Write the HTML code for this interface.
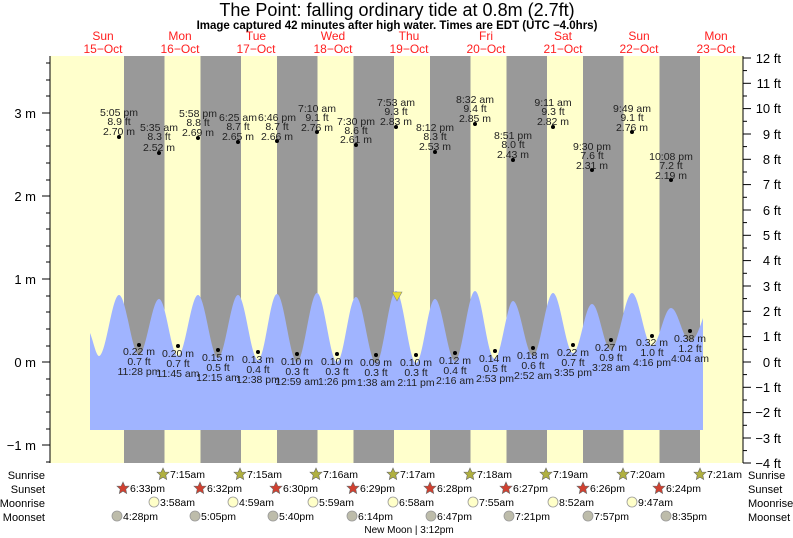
<!DOCTYPE html>
<html><head><meta charset="utf-8"><style>
html,body{margin:0;padding:0;background:#fff;}
svg{display:block;font-family:"Liberation Sans",sans-serif;}
</style></head><body>
<svg width="793" height="538" viewBox="0 0 793 538" xmlns="http://www.w3.org/2000/svg">
<rect width="793" height="538" fill="#fff"/>
<text x="397" y="16" font-size="18" text-anchor="middle" fill="#000">The Point: falling  ordinary tide at 0.8m (2.7ft)</text>
<text x="397" y="29" font-size="11.5" font-weight="bold" text-anchor="middle" fill="#000">Image captured 42 minutes after high water. Times are EDT (UTC −4.0hrs)</text>
<g font-size="12" fill="#ff2020" text-anchor="middle">
<text x="103" y="40">Sun</text><text x="103" y="53">15−Oct</text>
<text x="180" y="40">Mon</text><text x="180" y="53">16−Oct</text>
<text x="256" y="40">Tue</text><text x="256" y="53">17−Oct</text>
<text x="333" y="40">Wed</text><text x="333" y="53">18−Oct</text>
<text x="409" y="40">Thu</text><text x="409" y="53">19−Oct</text>
<text x="486" y="40">Fri</text><text x="486" y="53">20−Oct</text>
<text x="563" y="40">Sat</text><text x="563" y="53">21−Oct</text>
<text x="639" y="40">Sun</text><text x="639" y="53">22−Oct</text>
<text x="716" y="40">Mon</text><text x="716" y="53">23−Oct</text>
</g>
<rect x="50" y="56" width="693" height="407" fill="#ffffcc"/>
<g fill="#999999">
<rect x="124" y="56" width="40.5" height="407"/>
<rect x="200.5" y="56" width="40.5" height="407"/>
<rect x="277" y="56" width="40.5" height="407"/>
<rect x="353.5" y="56" width="40.5" height="407"/>
<rect x="430" y="56" width="40.5" height="407"/>
<rect x="506.5" y="56" width="40.5" height="407"/>
<rect x="583" y="56" width="40.5" height="407"/>
<rect x="659.5" y="56" width="40.5" height="407"/>
</g>
<path fill="#a0b4ff" d="M90,333 C93,340 96,356 99,356 C106,356 112,295 119,295 C126,295 132,355 139,355 C146,355 152,299 159,299 C166,299 171,356 178,356 C185,356 191,295 198,295 C205,295 211,358 218,358 C225,358 231,295 238,295 C245,295 251,360 258,360 C265,360 270,294 277,294 C284,294 290,362 297,362 C304,362 310,293 317,293 C324,293 330,362 337,362 C344,362 349,297 356,297 C363,297 369,363 376,363 C383,363 389,291 396,291 C403,291 409,363 416,363 C423,363 428,299 435,299 C442,299 448,361 455,361 C462,361 468,291 475,291 C482,291 487,359 495,359 C501,359 507,301 513,301 C520,301 526,356 533,356 C540,356 546,293 553,293 C560,293 566,353 573,353 C580,353 585,304 592,304 C599,304 604,350 611,350 C618,350 625,293 632,293 C639,293 645,346 652,346 C659,346 664,308 671,308 C678,308 683,341 690,341 C695,341 699,330 703,318 L703,430 L90,430 Z"/>
<polygon points="392,292 402,292 397,301" fill="#e8e030" stroke="#888" stroke-width="0.6"/>
<g stroke="#000" stroke-width="1">
<line x1="50" y1="56" x2="50" y2="463"/>
<line x1="743" y1="56" x2="743" y2="463"/>
<line x1="42" y1="113" x2="50" y2="113"/><line x1="42" y1="196" x2="50" y2="196"/><line x1="42" y1="279" x2="50" y2="279"/><line x1="42" y1="362" x2="50" y2="362"/><line x1="42" y1="445" x2="50" y2="445"/>
<line x1="46" y1="63" x2="50" y2="63"/><line x1="46" y1="80" x2="50" y2="80"/><line x1="46" y1="96" x2="50" y2="96"/><line x1="46" y1="130" x2="50" y2="130"/><line x1="46" y1="146" x2="50" y2="146"/><line x1="46" y1="163" x2="50" y2="163"/><line x1="46" y1="180" x2="50" y2="180"/><line x1="46" y1="213" x2="50" y2="213"/><line x1="46" y1="229" x2="50" y2="229"/><line x1="46" y1="246" x2="50" y2="246"/><line x1="46" y1="262" x2="50" y2="262"/><line x1="46" y1="296" x2="50" y2="296"/><line x1="46" y1="312" x2="50" y2="312"/><line x1="46" y1="329" x2="50" y2="329"/><line x1="46" y1="346" x2="50" y2="346"/><line x1="46" y1="379" x2="50" y2="379"/><line x1="46" y1="395" x2="50" y2="395"/><line x1="46" y1="412" x2="50" y2="412"/><line x1="46" y1="429" x2="50" y2="429"/><line x1="46" y1="462" x2="50" y2="462"/>
<line x1="743" y1="58" x2="751" y2="58"/><line x1="743" y1="83.3" x2="751" y2="83.3"/><line x1="743" y1="108.6" x2="751" y2="108.6"/><line x1="743" y1="134" x2="751" y2="134"/><line x1="743" y1="159.3" x2="751" y2="159.3"/><line x1="743" y1="184.6" x2="751" y2="184.6"/><line x1="743" y1="210" x2="751" y2="210"/><line x1="743" y1="235.3" x2="751" y2="235.3"/><line x1="743" y1="260.6" x2="751" y2="260.6"/><line x1="743" y1="286" x2="751" y2="286"/><line x1="743" y1="311.3" x2="751" y2="311.3"/><line x1="743" y1="336.6" x2="751" y2="336.6"/><line x1="743" y1="362" x2="751" y2="362"/><line x1="743" y1="387.3" x2="751" y2="387.3"/><line x1="743" y1="412.6" x2="751" y2="412.6"/><line x1="743" y1="438" x2="751" y2="438"/><line x1="743" y1="463" x2="751" y2="463"/>
<line x1="743" y1="70.6" x2="747" y2="70.6"/><line x1="743" y1="96" x2="747" y2="96"/><line x1="743" y1="121.3" x2="747" y2="121.3"/><line x1="743" y1="146.6" x2="747" y2="146.6"/><line x1="743" y1="172" x2="747" y2="172"/><line x1="743" y1="197.3" x2="747" y2="197.3"/><line x1="743" y1="222.6" x2="747" y2="222.6"/><line x1="743" y1="248" x2="747" y2="248"/><line x1="743" y1="273.3" x2="747" y2="273.3"/><line x1="743" y1="298.6" x2="747" y2="298.6"/><line x1="743" y1="324" x2="747" y2="324"/><line x1="743" y1="349.3" x2="747" y2="349.3"/><line x1="743" y1="374.6" x2="747" y2="374.6"/><line x1="743" y1="400" x2="747" y2="400"/><line x1="743" y1="425.3" x2="747" y2="425.3"/><line x1="743" y1="450.6" x2="747" y2="450.6"/>
</g>
<g font-size="13" fill="#000" text-anchor="end">
<text x="36" y="118">3 m</text><text x="36" y="201">2 m</text><text x="36" y="284">1 m</text><text x="36" y="367">0 m</text><text x="36" y="450">−1 m</text>
<text x="781" y="63">12 ft</text><text x="781" y="88">11 ft</text><text x="781" y="113">10 ft</text><text x="781" y="139">9 ft</text><text x="781" y="164">8 ft</text><text x="781" y="189">7 ft</text><text x="781" y="215">6 ft</text><text x="781" y="240">5 ft</text><text x="781" y="265">4 ft</text><text x="781" y="291">3 ft</text><text x="781" y="316">2 ft</text><text x="781" y="341">1 ft</text><text x="781" y="367">0 ft</text><text x="781" y="392">−1 ft</text><text x="781" y="417">−2 ft</text><text x="781" y="443">−3 ft</text><text x="781" y="468">−4 ft</text>
</g>
<g font-size="10.5" fill="#222" text-anchor="middle">
<circle cx="119" cy="137" r="2" fill="#000"/><text x="119" y="116">5:05 pm</text><text x="119" y="125">8.9 ft</text><text x="119" y="135">2.70 m</text>
<circle cx="159" cy="153" r="2" fill="#000"/><text x="159" y="131">5:35 am</text><text x="159" y="140">8.3 ft</text><text x="159" y="151">2.52 m</text>
<circle cx="198" cy="138" r="2" fill="#000"/><text x="198" y="117">5:58 pm</text><text x="198" y="126">8.8 ft</text><text x="198" y="136">2.69 m</text>
<circle cx="238" cy="142" r="2" fill="#000"/><text x="238" y="121">6:25 am</text><text x="238" y="130">8.7 ft</text><text x="238" y="140">2.65 m</text>
<circle cx="277" cy="141" r="2" fill="#000"/><text x="277" y="121">6:46 pm</text><text x="277" y="130">8.7 ft</text><text x="277" y="140">2.66 m</text>
<circle cx="317" cy="132" r="2" fill="#000"/><text x="317" y="112">7:10 am</text><text x="317" y="121">9.1 ft</text><text x="317" y="131">2.76 m</text>
<circle cx="356" cy="145" r="2" fill="#000"/><text x="356" y="125">7:30 pm</text><text x="356" y="134">8.6 ft</text><text x="356" y="143">2.61 m</text>
<circle cx="396" cy="127" r="2" fill="#000"/><text x="396" y="106">7:53 am</text><text x="396" y="115">9.3 ft</text><text x="396" y="125">2.83 m</text>
<circle cx="435" cy="152" r="2" fill="#000"/><text x="435" y="131">8:12 pm</text><text x="435" y="140">8.3 ft</text><text x="435" y="150">2.53 m</text>
<circle cx="475" cy="124" r="2" fill="#000"/><text x="475" y="103">8:32 am</text><text x="475" y="112">9.4 ft</text><text x="475" y="122">2.85 m</text>
<circle cx="513" cy="160" r="2" fill="#000"/><text x="513" y="139">8:51 pm</text><text x="513" y="148">8.0 ft</text><text x="513" y="158">2.43 m</text>
<circle cx="553" cy="127" r="2" fill="#000"/><text x="553" y="106">9:11 am</text><text x="553" y="115">9.3 ft</text><text x="553" y="125">2.82 m</text>
<circle cx="592" cy="170" r="2" fill="#000"/><text x="592" y="150">9:30 pm</text><text x="592" y="159">7.6 ft</text><text x="592" y="169">2.31 m</text>
<circle cx="632" cy="132" r="2" fill="#000"/><text x="632" y="112">9:49 am</text><text x="632" y="121">9.1 ft</text><text x="632" y="131">2.76 m</text>
<circle cx="671" cy="180" r="2" fill="#000"/><text x="671" y="160">10:08 pm</text><text x="671" y="169">7.2 ft</text><text x="671" y="179">2.19 m</text>
</g>
<g font-size="10.5" fill="#222" text-anchor="middle">
<circle cx="139" cy="345" r="2" fill="#000"/><text x="139" y="355">0.22 m</text><text x="139" y="365">0.7 ft</text><text x="139" y="375">11:28 pm</text>
<circle cx="178" cy="346" r="2" fill="#000"/><text x="178" y="357">0.20 m</text><text x="178" y="367">0.7 ft</text><text x="178" y="377">11:45 am</text>
<circle cx="218" cy="350" r="2" fill="#000"/><text x="218" y="361">0.15 m</text><text x="218" y="371">0.5 ft</text><text x="218" y="381">12:15 am</text>
<circle cx="258" cy="352" r="2" fill="#000"/><text x="258" y="363">0.13 m</text><text x="258" y="373">0.4 ft</text><text x="258" y="383">12:38 pm</text>
<circle cx="297" cy="354" r="2" fill="#000"/><text x="297" y="365">0.10 m</text><text x="297" y="375">0.3 ft</text><text x="297" y="385">12:59 am</text>
<circle cx="337" cy="354" r="2" fill="#000"/><text x="337" y="365">0.10 m</text><text x="337" y="375">0.3 ft</text><text x="337" y="385">1:26 pm</text>
<circle cx="376" cy="355" r="2" fill="#000"/><text x="376" y="366">0.09 m</text><text x="376" y="376">0.3 ft</text><text x="376" y="386">1:38 am</text>
<circle cx="416" cy="355" r="2" fill="#000"/><text x="416" y="366">0.10 m</text><text x="416" y="376">0.3 ft</text><text x="416" y="386">2:11 pm</text>
<circle cx="455" cy="353" r="2" fill="#000"/><text x="455" y="364">0.12 m</text><text x="455" y="374">0.4 ft</text><text x="455" y="384">2:16 am</text>
<circle cx="495" cy="351" r="2" fill="#000"/><text x="495" y="362">0.14 m</text><text x="495" y="372">0.5 ft</text><text x="495" y="382">2:53 pm</text>
<circle cx="533" cy="348" r="2" fill="#000"/><text x="533" y="359">0.18 m</text><text x="533" y="369">0.6 ft</text><text x="533" y="379">2:52 am</text>
<circle cx="573" cy="345" r="2" fill="#000"/><text x="573" y="356">0.22 m</text><text x="573" y="366">0.7 ft</text><text x="573" y="376">3:35 pm</text>
<circle cx="611" cy="340" r="2" fill="#000"/><text x="611" y="351">0.27 m</text><text x="611" y="361">0.9 ft</text><text x="611" y="371">3:28 am</text>
<circle cx="652" cy="336" r="2" fill="#000"/><text x="652" y="346">0.32 m</text><text x="652" y="356">1.0 ft</text><text x="652" y="366">4:16 pm</text>
<circle cx="690" cy="331" r="2" fill="#000"/><text x="690" y="342">0.38 m</text><text x="690" y="352">1.2 ft</text><text x="690" y="362">4:04 am</text>
</g>
<g font-size="11" fill="#000">
<g text-anchor="end"><text x="45" y="479">Sunrise</text><text x="45" y="493">Sunset</text><text x="45" y="507">Moonrise</text><text x="45" y="521">Moonset</text></g>
<text x="748" y="479">Sunrise</text><text x="748" y="493">Sunset</text><text x="748" y="507">Moonrise</text><text x="748" y="521">Moonset</text>
</g>
<defs>
<polygon id="st" points="0,-6 1.8,-2 6,-1.8 2.8,1.2 3.7,5.5 0,3.2 -3.7,5.5 -2.8,1.2 -6,-1.8 -1.8,-2" stroke="#666" stroke-width="0.6"/>
</defs>
<g font-size="10.5" fill="#000">
<use href="#st" x="163" y="474" fill="#b0b040"/><text x="170" y="478">7:15am</text>
<use href="#st" x="240" y="474" fill="#b0b040"/><text x="247" y="478">7:15am</text>
<use href="#st" x="316" y="474" fill="#b0b040"/><text x="323" y="478">7:16am</text>
<use href="#st" x="393" y="474" fill="#b0b040"/><text x="400" y="478">7:17am</text>
<use href="#st" x="470" y="474" fill="#b0b040"/><text x="477" y="478">7:18am</text>
<use href="#st" x="546" y="474" fill="#b0b040"/><text x="553" y="478">7:19am</text>
<use href="#st" x="623" y="474" fill="#b0b040"/><text x="630" y="478">7:20am</text>
<use href="#st" x="700" y="474" fill="#b0b040"/><text x="707" y="478">7:21am</text>
<use href="#st" x="123" y="488" fill="#d04030"/><text x="130" y="492">6:33pm</text>
<use href="#st" x="200" y="488" fill="#d04030"/><text x="207" y="492">6:32pm</text>
<use href="#st" x="276" y="488" fill="#d04030"/><text x="283" y="492">6:30pm</text>
<use href="#st" x="353" y="488" fill="#d04030"/><text x="360" y="492">6:29pm</text>
<use href="#st" x="430" y="488" fill="#d04030"/><text x="437" y="492">6:28pm</text>
<use href="#st" x="506" y="488" fill="#d04030"/><text x="513" y="492">6:27pm</text>
<use href="#st" x="583" y="488" fill="#d04030"/><text x="590" y="492">6:26pm</text>
<use href="#st" x="659" y="488" fill="#d04030"/><text x="666" y="492">6:24pm</text>
<g stroke="#999" stroke-width="0.8">
<circle cx="154" cy="502" r="5" fill="#ffffc8"/><circle cx="233" cy="502" r="5" fill="#ffffc8"/><circle cx="313" cy="502" r="5" fill="#ffffc8"/><circle cx="393" cy="502" r="5" fill="#ffffc8"/><circle cx="473" cy="502" r="5" fill="#ffffc8"/><circle cx="553" cy="502" r="5" fill="#ffffc8"/><circle cx="632" cy="502" r="5" fill="#ffffc8"/>
<circle cx="117" cy="516" r="5" fill="#bdbcaa"/><circle cx="195" cy="516" r="5" fill="#bdbcaa"/><circle cx="273" cy="516" r="5" fill="#bdbcaa"/><circle cx="352" cy="516" r="5" fill="#bdbcaa"/><circle cx="431" cy="516" r="5" fill="#bdbcaa"/><circle cx="509" cy="516" r="5" fill="#bdbcaa"/><circle cx="588" cy="516" r="5" fill="#bdbcaa"/><circle cx="666" cy="516" r="5" fill="#bdbcaa"/>
</g>
<text x="160" y="506">3:58am</text><text x="239" y="506">4:59am</text><text x="319" y="506">5:59am</text><text x="399" y="506">6:58am</text><text x="479" y="506">7:55am</text><text x="559" y="506">8:52am</text><text x="638" y="506">9:47am</text>
<text x="123" y="520">4:28pm</text><text x="201" y="520">5:05pm</text><text x="279" y="520">5:40pm</text><text x="358" y="520">6:14pm</text><text x="437" y="520">6:47pm</text><text x="515" y="520">7:21pm</text><text x="594" y="520">7:57pm</text><text x="672" y="520">8:35pm</text>
</g>
<text x="409" y="533" font-size="10" text-anchor="middle" fill="#000">New Moon | 3:12pm</text>
</svg>
</body></html>
